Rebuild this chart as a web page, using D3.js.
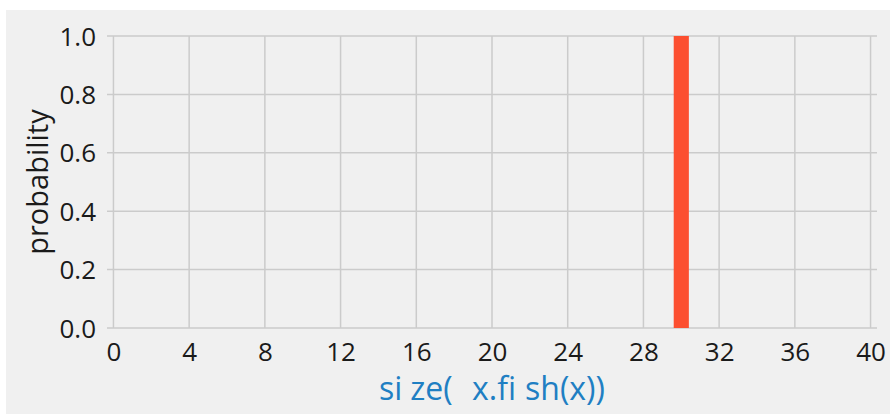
<!DOCTYPE html>
<html>
<head>
<meta charset="utf-8">
<script src="https://cdn.jsdelivr.net/npm/d3@7"></script>
<style>
  html, body { margin: 0; padding: 0; background: #ffffff; }
  svg { display: block; }
</style>
</head>
<body>
<svg id="chart" width="890" height="414"></svg>
<script>
// ---- data ----
const categories = [30];          // fish size value
const probabilities = [1.0];      // probability for each size
const xTicks = [0, 4, 8, 12, 16, 20, 24, 28, 32, 36, 40];
const yTicks = [0.0, 0.2, 0.4, 0.6, 0.8, 1.0];
const xLabelParts = ["si", "ze(", " x.fi", "sh(x))"];   // "size( x.fish(x))"
const xLabelGaps = [0, 8, 11, 9];
const yLabel = "probability";

(function () {
const W = 890, H = 414;
const pLeft = 107, pRight = 877, pTop = 36, pBottom = 328;
const barWidth = 0.8;
const font = "'Open Sans', 'Noto Sans', sans-serif";

const svg = d3.select("#chart");
svg.append("rect").attr("x", 6).attr("y", 10).attr("width", W - 6).attr("height", H - 10)
  .attr("fill", "#f0f0f0");

const x = d3.scaleLinear().domain([-0.34, 40.34]).range([pLeft, pRight]);
const y = d3.scaleLinear().domain([0, 1]).range([pBottom, pTop]);

// grid
const grid = svg.append("g");
grid.selectAll("line.v").data(xTicks).join("line").attr("class", "v")
  .attr("x1", d => x(d)).attr("x2", d => x(d))
  .attr("y1", y(1)).attr("y2", y(0))
  .attr("stroke", "#cbcbcb").attr("stroke-width", 1.5);
grid.selectAll("line.h").data(yTicks).join("line").attr("class", "h")
  .attr("x1", pLeft).attr("x2", pRight)
  .attr("y1", d => y(d)).attr("y2", d => y(d))
  .attr("stroke", "#cbcbcb").attr("stroke-width", 1.5);

// bars
svg.append("g").selectAll("rect").data(categories).join("rect")
  .attr("x", d => x(d - barWidth / 2))
  .attr("width", d => x(d + barWidth / 2) - x(d - barWidth / 2))
  .attr("y", (d, i) => y(probabilities[i]))
  .attr("height", (d, i) => y(0) - y(probabilities[i]))
  .attr("fill", "#fc4f30");

// axes
const xAxis = d3.axisBottom(x).tickValues(xTicks).tickSize(0).tickPadding(0).tickFormat(d3.format("d"));
const gx = svg.append("g").attr("transform", `translate(0,${pBottom})`).call(xAxis);
gx.select(".domain").remove();
gx.selectAll("text").attr("font-family", font).attr("font-size", 26).attr("fill", "#1a1a1a")
  .attr("dy", null).attr("y", 33);

const yAxis = d3.axisLeft(y).tickValues(yTicks).tickSize(0).tickPadding(0).tickFormat(d3.format(".1f"));
const gy = svg.append("g").attr("transform", `translate(96,0)`).call(yAxis);
gy.select(".domain").remove();
gy.selectAll("text").attr("font-family", font).attr("font-size", 26).attr("fill", "#1a1a1a")
  .attr("dy", "0.35em");

// labels
svg.append("text")
  .attr("transform", `translate(48,${(pTop + pBottom) / 2}) rotate(-90)`)
  .attr("text-anchor", "middle")
  .attr("font-family", font).attr("font-size", 29).attr("fill", "#1a1a1a")
  .text(yLabel);

const xl = svg.append("text")
  .attr("x", (pLeft + pRight) / 2).attr("y", 400)
  .attr("text-anchor", "middle")
  .attr("font-family", font).attr("font-size", 32).attr("fill", "#1f7fc3")
  .style("white-space", "pre");
xl.selectAll("tspan").data(xLabelParts).join("tspan")
  .attr("dx", (d, i) => xLabelGaps[i])
  .text(d => d);
})();
</script>
</body>
</html>
